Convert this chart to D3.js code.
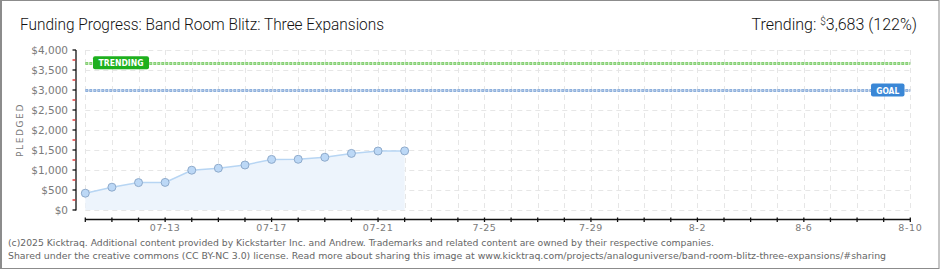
<!DOCTYPE html>
<html><head><meta charset="utf-8">
<script src="https://cdn.jsdelivr.net/npm/d3@7/dist/d3.min.js"></script>
<style>
html,body{margin:0;padding:0;background:#fff;}
svg{display:block;}
</style></head>
<body>
<svg id="c" width="940" height="270"></svg>
<script>
const dates = ["2025-07-10","2025-07-11","2025-07-12","2025-07-13","2025-07-14","2025-07-15","2025-07-16","2025-07-17","2025-07-18","2025-07-19","2025-07-20","2025-07-21","2025-07-22"];
const pledged = [420, 570, 685, 690, 995, 1045, 1125, 1265, 1268, 1318, 1415, 1475, 1478];
const goal = 3000;
const trending = 3683;
const trendingPct = 122;
const domainDates = ["2025-07-10","2025-08-10"];
const tickDates = ["2025-07-13","2025-07-17","2025-07-21","2025-07-25","2025-07-29","2025-08-02","2025-08-06","2025-08-10"];
const tickLabels = ["07-13","07-17","07-21","7-25","7-29","8-2","8-6","8-10"];
const yTicks = [0,500,1000,1500,2000,2500,3000,3500,4000];
const yMinor = [250,750,1250,1750,2250,2750,3250,3750];
const title = "Funding Progress: Band Room Blitz: Three Expansions";
const footer1 = "(c)2025 Kicktraq. Additional content provided by Kickstarter Inc. and Andrew. Trademarks and related content are owned by their respective companies.";
const footer2 = "Shared under the creative commons (CC BY-NC 3.0) license. Read more about sharing this image at www.kicktraq.com/projects/analoguniverse/band-room-blitz-three-expansions/#sharing";

const svg = d3.select("#c");
const P = d3.utcParse("%Y-%m-%d");
const L = 85.3, R = 910.3, T = 50, B = 210;
const x = d3.scaleUtc().domain(domainDates.map(P)).range([L, R]);
const y = d3.scaleLinear().domain([0, 4000]).range([B, T]);
const days = d3.utcDay.range(P(domainDates[0]), d3.utcDay.offset(P(domainDates[1]), 1));

// border
svg.append("rect").attr("x",0.5).attr("y",0.5).attr("width",938.5).attr("height",268)
  .attr("fill","#fff").attr("stroke","#8c8c8c").attr("stroke-width",1);
svg.append("line").attr("x1",1.5).attr("x2",1.5).attr("y1",0).attr("y2",269).attr("stroke","#8c8c8c");

// title
svg.append("text").attr("x",20).attr("y",30).attr("font-family","Roboto, sans-serif")
  .attr("font-size",16).attr("font-weight",300).attr("fill","#111")
  .attr("textLength",364).attr("lengthAdjust","spacingAndGlyphs").text(title);
const tr = svg.append("text").attr("x",917).attr("y",30).attr("text-anchor","end")
  .attr("font-family","Roboto, sans-serif").attr("font-size",16).attr("font-weight",300).attr("fill","#111");
tr.append("tspan").text("Trending:  ");
tr.append("tspan").attr("font-size",10).attr("dy",-5).text("$");
tr.append("tspan").attr("dy",5).text(d3.format(",")(trending) + " (" + trendingPct + "%)");

// grid
const g = svg.append("g");
g.selectAll("line.hg").data(yTicks.filter(d=>d>0)).join("line")
  .attr("x1",L).attr("x2",R).attr("y1",d=>Math.round(y(d))+0.5).attr("y2",d=>Math.round(y(d))+0.5)
  .attr("stroke","#e6e6e6").attr("stroke-dasharray","5,4");
g.selectAll("line.vg").data(days).join("line")
  .attr("x1",d=>Math.round(x(d))+0.5).attr("x2",d=>Math.round(x(d))+0.5).attr("y1",T).attr("y2",B)
  .attr("stroke","#e6e6e6").attr("stroke-dasharray","5,4");

// area
const pts = dates.map((d,i)=>({d:P(d), v:pledged[i]}));
g.append("path").datum(pts).attr("fill","#edf4fc")
  .attr("d", d3.area().x(p=>x(p.d)).y0(y(0)).y1(p=>y(p.v)));
g.append("line").attr("x1",L).attr("x2",R).attr("y1",B+0.5).attr("y2",B+0.5)
  .attr("stroke","#e6e6e6").attr("stroke-dasharray","5,4");
g.append("path").datum(pts).attr("fill","none").attr("stroke","#b7d5f3").attr("stroke-width",1.5)
  .attr("d", d3.line().x(p=>x(p.d)).y(p=>y(p.v)));

// goal & trending lines
function refLine(v, col, edge) {
  const yy = Math.round(y(v)) + 0.5;
  svg.append("line").attr("x1",L).attr("x2",R).attr("y1",yy).attr("y2",yy)
    .attr("stroke",edge).attr("stroke-width",3).attr("stroke-dasharray","3,1");
  svg.append("line").attr("x1",L+1).attr("x2",R).attr("y1",yy).attr("y2",yy)
    .attr("stroke",col).attr("stroke-width",1).attr("stroke-dasharray","1,3");
}
refLine(trending, "#b9e6ad", "#84cf72");
refLine(goal, "#bdd2ee", "#8eb0dc");

// labels on lines
function tag(x0, w, v, fill, txt, tl) {
  const yy = y(v);
  svg.append("rect").attr("x",x0).attr("y",yy-6.5).attr("width",w).attr("height",13).attr("rx",2)
    .attr("fill",fill);
  svg.append("text").attr("x",x0+w/2).attr("y",yy+3.5).attr("text-anchor","middle")
    .attr("font-family","DejaVu Sans, sans-serif").attr("font-size",8.5).attr("font-weight","bold")
    .attr("fill","#fff").attr("textLength",tl).attr("lengthAdjust","spacingAndGlyphs").text(txt);
}
tag(93, 56, trending, "#1eb01e", "TRENDING", 45);
tag(871, 33.5, goal, "#3a87d6", "GOAL", 23);

// points
g.selectAll("circle").data(pts).join("circle")
  .attr("cx",p=>x(p.d)).attr("cy",p=>y(p.v)).attr("r",4)
  .attr("fill","#bcd8f6").attr("stroke","#8eaacb").attr("stroke-width",1);

// y axis
const ax = 76;
svg.append("line").attr("x1",ax).attr("x2",ax).attr("y1",T).attr("y2",B+0.5).attr("stroke","#111").attr("stroke-width",1.3);
svg.selectAll("line.ymaj").data(yTicks).join("line").attr("x1",72.5).attr("x2",ax)
  .attr("y1",d=>y(d)).attr("y2",d=>y(d)).attr("stroke","#111").attr("stroke-width",1.3);
svg.selectAll("line.ymin").data(yMinor).join("line").attr("x1",72.5).attr("x2",ax-0.6)
  .attr("y1",d=>y(d)).attr("y2",d=>y(d)).attr("stroke","#e02020").attr("stroke-width",1.3);
svg.selectAll("text.yl").data(yTicks).join("text").attr("x",68).attr("y",d=>y(d)+4)
  .attr("text-anchor","end").attr("font-family","DejaVu Sans, sans-serif").attr("font-size",10.5)
  .attr("fill","#7a7a7a").text(d=>"$"+d3.format(",")(d));
svg.append("text").attr("transform","translate(23,130) rotate(-90)").attr("text-anchor","middle")
  .attr("font-family","DejaVu Sans, sans-serif").attr("font-size",9).attr("letter-spacing",1.6)
  .attr("fill","#7a7a7a").text("PLEDGED");

// x axis
const xa = 219.5;
svg.append("line").attr("x1",L).attr("x2",R).attr("y1",xa).attr("y2",xa).attr("stroke","#111").attr("stroke-width",1.3);
svg.selectAll("line.xt").data(days).join("line").attr("x1",d=>x(d)).attr("x2",d=>x(d))
  .attr("y1",xa-2).attr("y2",xa+2.5).attr("stroke","#111").attr("stroke-width",1.3);
svg.selectAll("text.xl").data(tickDates).join("text").attr("x",d=>x(P(d))).attr("y",231)
  .attr("text-anchor","middle").attr("font-family","DejaVu Sans, sans-serif").attr("font-size",9.5)
  .attr("letter-spacing",0.6).attr("fill","#7a7a7a").text((d,i)=>tickLabels[i]);

// footer
svg.append("text").attr("x",8).attr("y",246).attr("font-family","DejaVu Sans Condensed, DejaVu Sans, sans-serif")
  .attr("font-size",9.5).attr("fill","#666").attr("textLength",706).attr("lengthAdjust","spacingAndGlyphs").text(footer1);
svg.append("text").attr("x",8).attr("y",259).attr("font-family","DejaVu Sans Condensed, DejaVu Sans, sans-serif")
  .attr("font-size",9.5).attr("fill","#666").attr("textLength",878).attr("lengthAdjust","spacingAndGlyphs").text(footer2);
</script>
</body></html>
